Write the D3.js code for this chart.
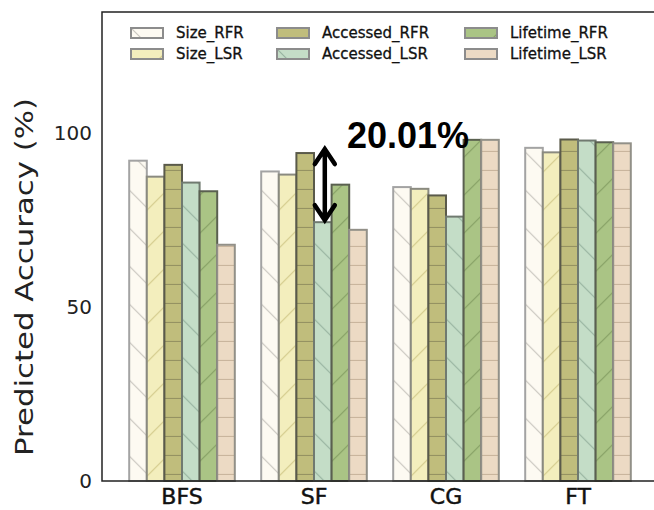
<!DOCTYPE html>
<html>
<head>
<meta charset="utf-8">
<script src="https://cdn.jsdelivr.net/npm/d3@7"></script>
<style>
  body { margin: 0; background: #fff; }
  svg { display: block; }
</style>
</head>
<body>
<script>
// categories and series
var categories = [ "BFS", "SF", "CG", "FT" ];
var seriesNames = [ "Size_RFR", "Size_LSR", "Accessed_RFR", "Accessed_LSR", "Lifetime_RFR", "Lifetime_LSR" ];

// values per series, in category order
var sizeRFR = [ 92.2, 89.1, 84.6, 95.9 ];
var sizeLSR = [ 87.6, 88.2, 84.1, 94.6 ];
var accessedRFR = [ 91.0, 94.4, 82.2, 98.3 ];
var accessedLSR = [ 85.9, 74.5, 76.1, 98.0 ];
var lifetimeRFR = [ 83.4, 85.3, 98.2, 97.5 ];
var lifetimeLSR = [ 68.0, 72.3, 98.2, 97.2 ];

var yTicks = [ 0, 50, 100 ];
var yTitle = "Predicted Accuracy (%)";
var gapLabel = "20.01%";

var seriesValues = [ sizeRFR, sizeLSR, accessedRFR, accessedLSR, lifetimeRFR, lifetimeLSR ];

// look of each series: fill, border, hatch colour and hatch kind
var styles = [
  { fill: "#fdfaf2", stroke: "#a3a3a3", hatch: "#c9c6bf", kind: "back" },
  { fill: "#f3eebd", stroke: "#8a8a80", hatch: "#d3cb8c", kind: "fwd" },
  { fill: "#c0bd7c", stroke: "#5a5a4a", hatch: "#959262", kind: "horiz" },
  { fill: "#c4ddc7", stroke: "#707a70", hatch: "#98b4a0", kind: "back" },
  { fill: "#aac485", stroke: "#5a6050", hatch: "#86a065", kind: "fwd" },
  { fill: "#ecdac4", stroke: "#929088", hatch: "#c9b59d", kind: "horiz" }
];

var W = 654, H = 510;
var plotLeft = 102, plotTop = 12, plotBottom = 481;

var svg = d3.select( "body" ).append( "svg" )
  .attr( "width", W )
  .attr( "height", H );

// hatch patterns
var defs = svg.append( "defs" );
styles.forEach( function ( s, i ) {
  var size = s.kind === "horiz" ? 19 : 38;
  var p = defs.append( "pattern" )
    .attr( "id", "hatch" + i )
    .attr( "patternUnits", "userSpaceOnUse" )
    .attr( "width", size )
    .attr( "height", size );
  p.append( "rect" )
    .attr( "width", size )
    .attr( "height", size )
    .attr( "fill", s.fill );
  var d;
  if ( s.kind === "horiz" ) {
    d = "M0," + ( size - 0.5 ) + "H" + size;
  } else if ( s.kind === "fwd" ) {
    d = "M-2,2L2,-2M0," + size + "L" + size + ",0M" + ( size - 2 ) + "," + ( size + 2 ) + "L" + ( size + 2 ) + "," + ( size - 2 );
  } else {
    d = "M-2," + ( size - 2 ) + "L2," + ( size + 2 ) + "M0,0L" + size + "," + size + "M" + ( size - 2 ) + ",-2L" + ( size + 2 ) + ",2";
  }
  p.append( "path" )
    .attr( "d", d )
    .attr( "stroke", s.hatch )
    .attr( "stroke-width", 1.2 )
    .attr( "fill", "none" );
} );

var y = d3.scaleLinear()
  .domain( [ 0, 135 ] )
  .range( [ plotBottom, plotTop ] );

var x0 = d3.scaleBand()
  .domain( categories )
  .range( [ 116, 644 ] )
  .paddingInner( 0.2 )
  .paddingOuter( 0.1 );

var x1 = d3.scaleBand()
  .domain( seriesNames )
  .range( [ 0, x0.bandwidth() ] );

// bars
var groups = svg.selectAll( "g.group" )
  .data( categories )
  .enter().append( "g" )
  .attr( "class", "group" )
  .attr( "transform", function ( d ) {
    return "translate(" + x0( d ) + ",0)";
  } );

groups.selectAll( "rect" )
  .data( function ( d, ci ) {
    return seriesNames.map( function ( name, si ) {
      return { name: name, si: si, value: seriesValues[ si ][ ci ] };
    } );
  } )
  .enter().append( "rect" )
  .attr( "x", function ( d ) { return x1( d.name ); } )
  .attr( "y", function ( d ) { return y( d.value ); } )
  .attr( "width", x1.bandwidth() )
  .attr( "height", function ( d ) { return y( 0 ) - y( d.value ); } )
  .attr( "fill", function ( d ) { return "url(#hatch" + d.si + ")"; } )
  .attr( "stroke", function ( d ) { return styles[ d.si ].stroke; } )
  .attr( "stroke-width", 2 );

// plot frame (right edge is off the picture)
svg.append( "path" )
  .attr( "d", "M" + ( W + 5 ) + "," + plotTop + "H" + plotLeft + "V" + plotBottom + "H" + ( W + 5 ) )
  .attr( "fill", "none" )
  .attr( "stroke", "#222" )
  .attr( "stroke-width", 1.5 );

// y axis
var yAxis = svg.append( "g" )
  .attr( "transform", "translate(" + plotLeft + ",0)" )
  .call( d3.axisLeft( y ).tickValues( yTicks ).tickSize( 0 ).tickPadding( 10 ) );
yAxis.select( ".domain" ).remove();
yAxis.selectAll( "text" )
  .attr( "font-family", "DejaVu Sans" )
  .attr( "font-size", 20 )
  .attr( "fill", "#222" );

// x axis
var xAxis = svg.append( "g" )
  .attr( "transform", "translate(0," + plotBottom + ")" )
  .call( d3.axisBottom( x0 ).tickSize( 0 ).tickPadding( 8 ) );
xAxis.select( ".domain" ).remove();
xAxis.selectAll( "text" )
  .attr( "font-family", "DejaVu Sans" )
  .attr( "font-size", 22 )
  .attr( "fill", "#111" )
  .attr( "stroke", "#111" )
  .attr( "stroke-width", 0.5 )
  .attr( "dy", "0.68em" );

// y title
svg.append( "text" )
  .attr( "transform", "translate(33,277) rotate(-90)" )
  .attr( "text-anchor", "middle" )
  .attr( "font-family", "DejaVu Sans" )
  .attr( "font-size", 25 )
  .attr( "fill", "#222" )
  .attr( "textLength", 358 )
  .attr( "lengthAdjust", "spacingAndGlyphs" )
  .text( yTitle );

// legend, filled column by column
var legendPatchX = [ 131, 277, 465 ];
var legendRowY = [ 28, 49 ];
var legend = svg.selectAll( "g.legend" )
  .data( seriesNames )
  .enter().append( "g" )
  .attr( "class", "legend" )
  .attr( "transform", function ( d, i ) {
    return "translate(" + legendPatchX[ Math.floor( i / 2 ) ] + "," + legendRowY[ i % 2 ] + ")";
  } );
legend.append( "rect" )
  .attr( "width", 32 )
  .attr( "height", 10 )
  .attr( "fill", function ( d, i ) { return "url(#hatch" + i + ")"; } )
  .attr( "stroke", "#8c8c8c" )
  .attr( "stroke-width", 2 );
legend.append( "text" )
  .attr( "x", 45 )
  .attr( "y", 5 )
  .attr( "dy", "0.36em" )
  .attr( "font-family", "DejaVu Sans" )
  .attr( "font-size", 15 )
  .attr( "fill", "#111" )
  .attr( "stroke", "#111" )
  .attr( "stroke-width", 0.3 )
  .text( function ( d ) { return d; } );

// gap arrow on SF, from Accessed_RFR down to Accessed_LSR
var arrowX = x0( "SF" ) + x1( "Accessed_LSR" ) + x1.bandwidth() / 2 + 2;
var yTopA = y( accessedRFR[ 1 ] ) - 4;
var yBotA = y( accessedLSR[ 1 ] ) - 2;
svg.append( "path" )
  .attr( "d", "M" + arrowX + "," + ( yTopA + 2 ) + "V" + ( yBotA - 2 ) +
    "M" + ( arrowX - 10 ) + "," + ( yTopA + 15 ) + "L" + arrowX + "," + yTopA + "L" + ( arrowX + 10 ) + "," + ( yTopA + 15 ) +
    "M" + ( arrowX - 10 ) + "," + ( yBotA - 15 ) + "L" + arrowX + "," + yBotA + "L" + ( arrowX + 10 ) + "," + ( yBotA - 15 ) )
  .attr( "fill", "none" )
  .attr( "stroke", "#000" )
  .attr( "stroke-width", 4.5 )
  .attr( "stroke-linecap", "round" )
  .attr( "stroke-linejoin", "miter" );

svg.append( "text" )
  .attr( "x", 347 )
  .attr( "y", 148 )
  .attr( "font-family", "Liberation Sans, Arial, sans-serif" )
  .attr( "font-weight", "bold" )
  .attr( "font-size", 36 )
  .attr( "fill", "#000" )
  .text( gapLabel );
</script>
</body>
</html>
